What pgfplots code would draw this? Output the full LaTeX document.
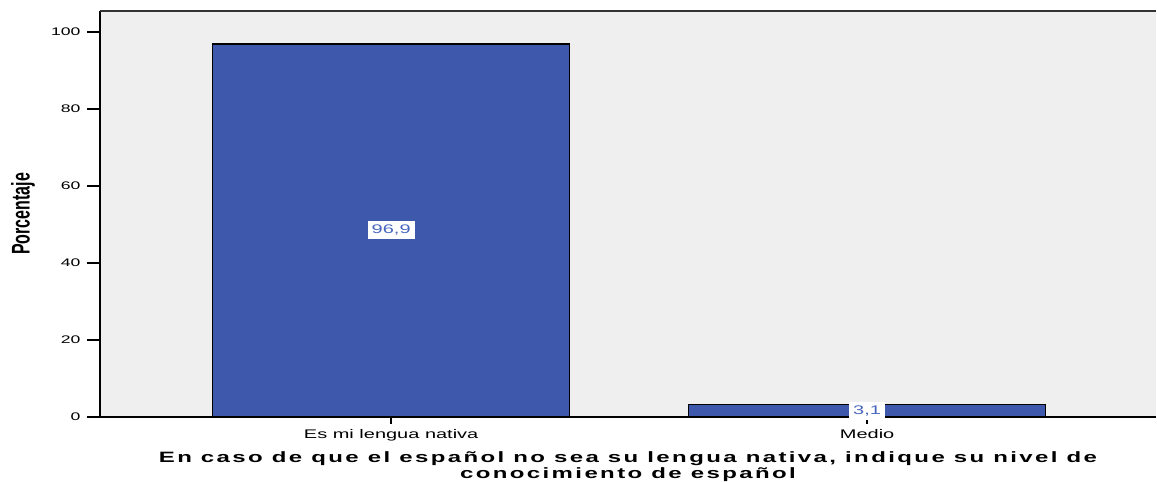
\documentclass[border=0pt]{standalone}
\usepackage{pgfplots}
\pgfplotsset{compat=1.18}
\usepackage{fontspec}
\setmainfont{Liberation Sans}
\definecolor{barblue}{RGB}{62,89,171}
\definecolor{labblue}{RGB}{72,102,190}
\definecolor{bggray}{RGB}{239,239,239}
\begin{document}
\begin{tikzpicture}
\begin{axis}[
  scale only axis,
  width=1057pt, height=406pt,
  xmin=-0.612, xmax=1.607,
  ymin=0, ymax=105.45,
  clip=false,
  axis line style={draw=none},
  axis background/.style={fill=bggray},
  tick pos=left,
  tick align=outside,
  xtick={0,1},
  xticklabels={\scalebox{1.6}[1]{Es mi lengua nativa},\scalebox{1.6}[1]{Medio}},
  ytick={0,20,40,60,80,100},
  yticklabel={\scalebox{1.6}[1]{\pgfmathprintnumber{\tick}}},
  /pgf/number format/assume math mode=true,
  ticklabel style={black, inner sep=1pt},
  yticklabel style={xshift=-14pt, font=\fontsize{11}{11}\selectfont},
  xticklabel style={yshift=-7pt, font=\fontsize{12.5}{12.5}\selectfont},
  y tick style={line width=2pt, black, /pgfplots/major tick length=13pt},
  x tick style={line width=1.5pt, black, /pgfplots/major tick length=7pt},
  xlabel={\scalebox{1.6}[1]{En caso de que el español no sea su lengua nativa, indique su nivel de}\\\scalebox{1.6}[1]{conocimiento de español}},
  xlabel style={at={(axis description cs:0.5,0)}, anchor=north, yshift=-35pt, align=center, inner sep=0pt,
    font=\bfseries\fontsize{15}{16}\selectfont\addfontfeatures{LetterSpace=10}},
  ylabel={\scalebox{1}[1.6]{Porcentaje}},
  ylabel style={at={(axis description cs:-0.0728,0.5)}, anchor=center,
    font=\bfseries\fontsize{16}{16}\selectfont},
]
\addplot[ybar, bar width=0.75, fill=barblue, draw=black, line width=1.5pt] coordinates {(0,96.9) (1,3.1)};
\addplot[draw=none, mark=none, point meta=explicit symbolic,
  nodes near coords={\scalebox{1.6}[1]{\pgfplotspointmeta}},
  every node near coord/.style={anchor=center, fill=white, text=labblue, inner xsep=4pt, inner ysep=4pt,
    font=\fontsize{12.5}{12.5}\selectfont}]
  table[meta=lab] {
x y lab
0 48.45 96,9
1 1.55 3,1
};
\draw[line width=2pt, black] (rel axis cs:0,1) -- (rel axis cs:0,0) -- (rel axis cs:1,0);
\draw[line width=1.6pt, black!80] (rel axis cs:0,1) -- (rel axis cs:1,1);
\path (rel axis cs:0,0) ++(-100pt,-65pt) coordinate (bbA);
\path (rel axis cs:1,1) ++(0pt,11pt) coordinate (bbB);
\end{axis}
\useasboundingbox (bbA) rectangle (bbB);
\end{tikzpicture}
\end{document}
